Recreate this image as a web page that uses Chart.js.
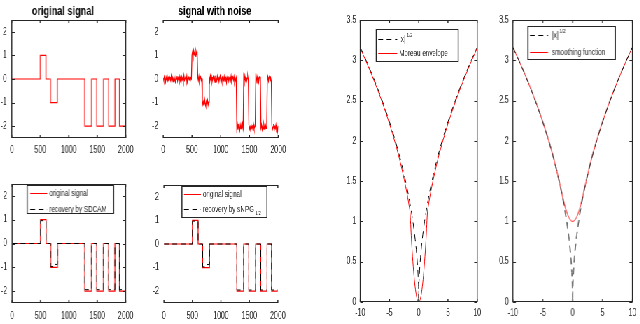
<!DOCTYPE html>
<html>
<head>
<meta charset="utf-8">
<script src="https://cdn.jsdelivr.net/npm/chart.js@4.4.1/dist/chart.umd.min.js"></script>
<style>
body { margin: 0; background: #fff; overflow: hidden; }
#fig { position: absolute; left: 0; top: 0; width: 915px; height: 324px; transform: scaleX(0.7); transform-origin: 0 0; }
.panel { position: absolute; }
</style>
</head>
<body>
<div id="fig">
  <div class="panel" id="p1"><canvas id="c1"></canvas></div>
  <div class="panel" id="p2"><canvas id="c2"></canvas></div>
  <div class="panel" id="p3"><canvas id="c3"></canvas></div>
  <div class="panel" id="p4"><canvas id="c4"></canvas></div>
  <div class="panel" id="p5"><canvas id="c5"></canvas></div>
  <div class="panel" id="p6"><canvas id="c6"></canvas></div>
</div>
<script>
// squeeze factor of the whole figure (the reference is narrow horizontally)
const S = 0.7

// ---- signals (left half) ----
const sigBreaks = [0, 500, 600, 680, 800, 1280, 1400, 1490, 1610, 1700, 1810, 1890, 2000]
const sigLevels = [0, 1, 0, -1, 0, -2, 0, -2, 0, -2, 0, -2, -2]

const sdcamBreaks = [0, 500, 600, 680, 730, 800, 1280, 1400, 1490, 1610, 1700, 1810, 1890, 2000]
const sdcamLevels = [0, 0.96, 0, -0.97, -0.88, 0, -1.94, 0, -1.94, 0, -1.94, 0, -1.94, -1.94]

const snpgBreaks = [0, 500, 600, 680, 740, 800, 1280, 1400, 1490, 1610, 1700, 1810, 1890, 2000]
const snpgLevels = [0, 0.97, 0, -0.97, -0.87, 0, -1.95, 0, -1.95, 0, -1.95, 0, -1.95, -1.95]

const noiseStep = 10
const noisy = [
  0.05, -0.08, 0.10, 0.02, -0.12, 0.07, -0.03, 0.11, -0.06, 0.04,
  -0.10, 0.08, 0.01, -0.07, 0.13, -0.04, 0.06, -0.11, 0.03, 0.09,
  -0.05, -0.13, 0.07, 0.00, 0.12, -0.08, 0.05, -0.02, 0.10, -0.09,
  0.04, -0.15, 0.08, -0.03, 0.06, -0.10, 0.14, -0.05, 0.02, 0.09,
  -0.07, 0.11, -0.12, 0.03, 0.07, -0.04, 0.10, -0.08, 0.05, 0.01,
  1.02, 1.15, 0.98, 1.20, 1.05, 1.12, 0.97, 1.18, 1.06, 1.10,
  0.08, -0.06, 0.11, -0.10, 0.04, 0.09, -0.05, 0.02,
  -0.92, -1.08, -0.97, -1.12, -0.88, -1.05, -1.15, -0.95, -1.03, -0.90, -1.10, -0.98,
  0.06, -0.09, 0.12, -0.04, 0.08, -0.11, 0.03, 0.10, -0.06, 0.05,
  -0.13, 0.07, 0.01, -0.08, 0.11, -0.03, 0.09, -0.10, 0.04, 0.13,
  -0.07, 0.02, -0.12, 0.08, 0.05, -0.05, 0.10, -0.09, 0.03, 0.07,
  -0.14, 0.06, -0.02, 0.11, -0.08, 0.04, 0.09, -0.06, 0.12, -0.10,
  0.01, 0.08, -0.04, 0.10, -0.11, 0.05, -0.07, 0.03,
  -2.08, -1.92, -2.15, -1.97, -2.05, -2.18, -1.95, -2.10, -2.02, -2.14, -1.90, -2.06,
  0.07, -0.10, 0.12, -0.05, 0.09, -0.08, 0.04, 0.11, -0.06,
  -1.94, -2.12, -2.03, -2.17, -1.96, -2.08, -2.01, -2.15, -1.93, -2.10, -2.04, -1.98,
  0.05, -0.09, 0.11, -0.04, 0.08, -0.12, 0.06, 0.10, -0.03,
  -2.06, -1.95, -2.14, -2.00, -2.11, -1.92, -2.07, -2.16, -1.97, -2.09, -2.03,
  -0.04, 0.10, -0.08, 0.06, 0.12, -0.07, 0.03, -0.10,
  -1.96, -2.13, -2.04, -1.91, -2.18, -2.02, -2.09, -1.95, -2.15, -2.06, -2.22, -1.99
]

const sigXTicks = [0, 500, 1000, 1500, 2000]
const sigYTicks = [-2, -1, 0, 1, 2]

// ---- curves (right half) ----
const sqrtX = [-10, -9, -8, -7, -6, -5, -4, -3, -2, -1.5, -1, -0.6, -0.3, -0.1, -0.02, 0, 0.02, 0.1, 0.3, 0.6, 1, 1.5, 2, 3, 4, 5, 6, 7, 8, 9, 10]
const sqrtY = [3.162, 3.0, 2.828, 2.646, 2.449, 2.236, 2.0, 1.732, 1.414, 1.225, 1.0, 0.775, 0.548, 0.316, 0.141, 0, 0.141, 0.316, 0.548, 0.775, 1.0, 1.225, 1.414, 1.732, 2.0, 2.236, 2.449, 2.646, 2.828, 3.0, 3.162]

const moreauX = [-10, -9, -8, -7, -6, -5, -4, -3, -2, -1.75, -1.6, -1.5, -1.25, -1, -0.75, -0.5, -0.25, 0, 0.25, 0.5, 0.75, 1, 1.25, 1.5, 1.6, 1.75, 2, 3, 4, 5, 6, 7, 8, 9, 10]
const moreauY = [3.150, 2.986, 2.812, 2.628, 2.429, 2.211, 1.968, 1.688, 1.345, 1.242, 1.173, 1.125, 0.781, 0.5, 0.281, 0.125, 0.031, 0, 0.031, 0.125, 0.281, 0.5, 0.781, 1.125, 1.173, 1.242, 1.345, 1.688, 1.968, 2.211, 2.429, 2.628, 2.812, 2.986, 3.150]

const smoothX = [-10, -9, -8, -7, -6, -5, -4, -3, -2, -1.75, -1.5, -1.25, -1, -0.75, -0.5, -0.25, 0, 0.25, 0.5, 0.75, 1, 1.25, 1.5, 1.75, 2, 3, 4, 5, 6, 7, 8, 9, 10]
const smoothY = [3.162, 3.0, 2.828, 2.646, 2.449, 2.236, 2.0, 1.732, 1.414, 1.329, 1.25, 1.179, 1.118, 1.068, 1.031, 1.008, 1, 1.008, 1.031, 1.068, 1.118, 1.179, 1.25, 1.329, 1.414, 1.732, 2.0, 2.236, 2.449, 2.646, 2.828, 3.0, 3.162]

const curveXTicks = [-10, -5, 0, 5, 10]
const curveYTicks = [0, 0.5, 1, 1.5, 2, 2.5, 3, 3.5]

const titles = ['original signal', 'signal with noise']
const legendSDCAM = ['original signal', 'recovery by SDCAM']
const legendSNPG = ['original signal', 'recovery by sNPG_1/2']
const legendMoreau = ['|x|^1/2', 'Moreau envelope']
const legendSmooth = ['|x|^1/2', 'smoothing function']

const FONT = '"Liberation Sans", Arial, Helvetica, sans-serif'
const RED = '#ff0000'
const DASH = [7, 5]

const pts = (xs, ys) => xs.map((x, i) => ({ x: x, y: ys[i] }))

// box around the axes, with small inward ticks like matlab
const frame = {
  id: 'frame',
  afterDraw(chart, args, o) {
    const ctx = chart.ctx, a = chart.chartArea
    const xs = chart.scales.x, ys = chart.scales.y
    ctx.save()
    ctx.strokeStyle = '#262626'
    const seg = (x1, y1, x2, y2, lw) => {
      ctx.lineWidth = lw
      ctx.beginPath(); ctx.moveTo(x1, y1); ctx.lineTo(x2, y2); ctx.stroke()
    }
    const sides = o.sides || 'tblr'
    if (sides.includes('t')) seg(a.left, a.top + 0.5, a.right, a.top + 0.5, 1)
    if (sides.includes('b')) seg(a.left, a.bottom - 0.5, a.right, a.bottom - 0.5, 1)
    if (sides.includes('l')) seg(a.left, a.top, a.left, a.bottom, 1 / S)
    if (sides.includes('r')) seg(a.right, a.top, a.right, a.bottom, 1 / S)
    xs.ticks.forEach(t => {
      const px = xs.getPixelForValue(t.value)
      seg(px, a.bottom, px, a.bottom - 3, 1 / S)
      if (sides.includes('t')) seg(px, a.top, px, a.top + 3, 1 / S)
    })
    ys.ticks.forEach(t => {
      const py = Math.round(ys.getPixelForValue(t.value)) + 0.5
      if (sides.includes('l')) seg(a.left, py, a.left + 3 / S, py, 1)
      if (sides.includes('r')) seg(a.right, py, a.right - 3 / S, py, 1)
    })
    ctx.restore()
  }
}

// legend box drawn inside the plot area
const boxLegend = {
  id: 'boxLegend',
  afterDraw(chart, args, o) {
    if (!o.items) return
    const ctx = chart.ctx, a = chart.chartArea
    const x0 = a.left + o.x / S, y0 = a.top + o.y, w = o.w / S
    ctx.save()
    ctx.fillStyle = '#fff'
    ctx.fillRect(x0, y0, w, o.h)
    ctx.strokeStyle = '#262626'
    ctx.lineWidth = 1
    ctx.beginPath()
    ctx.moveTo(x0, y0 + 0.5); ctx.lineTo(x0 + w, y0 + 0.5)
    ctx.moveTo(x0, y0 + o.h - 0.5); ctx.lineTo(x0 + w, y0 + o.h - 0.5)
    ctx.stroke()
    ctx.lineWidth = 1 / S
    ctx.beginPath()
    ctx.moveTo(x0, y0); ctx.lineTo(x0, y0 + o.h)
    ctx.moveTo(x0 + w, y0); ctx.lineTo(x0 + w, y0 + o.h)
    ctx.stroke()

    o.items.forEach((it, i) => {
      const y = Math.round(y0 + o.rows[i]) + 0.5
      ctx.strokeStyle = it.color
      ctx.lineWidth = 1
      ctx.setLineDash(it.dash || [])
      ctx.beginPath()
      ctx.moveTo(x0 + o.lineFrom / S, y); ctx.lineTo(x0 + o.lineTo / S, y)
      ctx.stroke()
      ctx.setLineDash([])

      let main = it.label, sup = null, sub = null
      if (main.includes('^')) [main, sup] = main.split('^')
      else if (main.includes('_')) [main, sub] = main.split('_')
      ctx.fillStyle = '#1a1a1a'
      ctx.textBaseline = 'middle'
      ctx.font = '9px ' + FONT
      const tx = x0 + o.textAt / S
      ctx.fillText(main, tx, y)
      if (sup || sub) {
        const mw = ctx.measureText(main).width
        ctx.font = '6px ' + FONT
        ctx.fillText(sup || sub, tx + mw + 1.5, y + (sup ? -4 : 3.5))
      }
    })
    ctx.restore()
  }
}

function place(id, left, top, width, height) {
  const el = document.getElementById(id)
  el.style.left = (left / S) + 'px'
  el.style.top = top + 'px'
  el.style.width = (width / S) + 'px'
  el.style.height = height + 'px'
}

function panel(canvasId, p) {
  const tickFont = { family: FONT, size: 10 }
  return new Chart(document.getElementById(canvasId), {
    type: 'line',
    data: { datasets: p.datasets },
    options: {
      responsive: true,
      maintainAspectRatio: false,
      animation: false,
      events: [],
      layout: { padding: { top: p.title ? 0 : 15, right: p.padRight / S, left: 0, bottom: 0 } },
      elements: { point: { radius: 0 } },
      scales: {
        x: {
          type: 'linear', min: p.xMin, max: p.xMax,
          afterBuildTicks: ax => { ax.ticks = p.xTicks.map(v => ({ value: v })) },
          afterFit: ax => { ax.height = p.xh },
          grid: { display: false, drawTicks: false }, border: { display: false },
          ticks: { font: tickFont, color: '#262626', padding: p.xPad, maxRotation: 0, autoSkip: false, callback: v => String(v) }
        },
        y: {
          type: 'linear', min: p.yMin, max: p.yMax,
          afterBuildTicks: ax => { ax.ticks = p.yTicks.map(v => ({ value: v })) },
          afterFit: ax => { ax.width = p.yw / S },
          grid: { display: false, drawTicks: false }, border: { display: false },
          ticks: { font: tickFont, color: '#262626', padding: p.yPad / S, autoSkip: false, callback: v => String(v) }
        }
      },
      plugins: {
        legend: { display: false },
        tooltip: { enabled: false },
        title: p.title ? {
          display: true, text: p.title, color: '#000',
          font: { family: FONT, size: 13, weight: 'bold', lineHeight: 1.2 },
          padding: { top: 4, bottom: 0.4 }
        } : { display: false },
        frame: { sides: p.sides },
        boxLegend: p.legend || {}
      }
    },
    plugins: [frame, boxLegend]
  })
}

const stepPts = (b, l) => b.map((x, i) => ({ x: x, y: l[i] }))
const sigAxes = { xMin: 0, xMax: 2000, yMin: -2.5, yMax: 2.5, xTicks: sigXTicks, yTicks: sigYTicks, yPad: 5 }
const curveAxes = { xMin: -10, xMax: 10, yMin: 0, yMax: 3.5, xTicks: curveXTicks, yTicks: curveYTicks, yPad: 4, xh: 16, xPad: 5.5, padRight: 8.4 }

place('p1', 0, 0, 137.6, 156)
place('p2', 151, 0, 139.6, 156)
place('p3', 0, 169, 137.6, 152)
place('p4', 152, 170, 138.6, 151)
place('p5', 340, 5, 145.4, 313)
place('p6', 493, 5, 147.4, 313)

panel('c1', Object.assign({}, sigAxes, {
  title: titles[0], yw: 11.7, padRight: 12.6, xh: 18, xPad: 6, sides: 'tblr',
  datasets: [{ data: stepPts(sigBreaks, sigLevels), stepped: true, borderColor: RED, borderWidth: 1.2 }]
}))

panel('c2', Object.assign({}, sigAxes, {
  title: titles[1], yw: 12, padRight: 12.6, xh: 18, xPad: 6, sides: 'tb',
  datasets: [{ data: noisy.map((v, i) => ({ x: i * noiseStep, y: v })), borderColor: RED, borderWidth: 1.3 }]
}))

panel('c3', Object.assign({}, sigAxes, {
  yw: 12, padRight: 12.6, xh: 18, xPad: 7, sides: 'tblr',
  datasets: [
    { data: stepPts(sdcamBreaks, sdcamLevels), stepped: true, borderColor: '#000', borderWidth: 1, borderDash: DASH },
    { data: stepPts(sigBreaks, sigLevels), stepped: true, borderColor: RED, borderWidth: 1.2 }
  ],
  legend: {
    x: 15, y: 1, w: 86, h: 29, rows: [8, 24], lineFrom: 3, lineTo: 20, textAt: 22,
    items: [
      { label: legendSDCAM[0], color: RED },
      { label: legendSDCAM[1], color: '#000', dash: DASH }
    ]
  }
}))

panel('c4', Object.assign({}, sigAxes, {
  yw: 12, padRight: 12.6, xh: 18, xPad: 7, sides: 'tb',
  datasets: [
    { data: stepPts(snpgBreaks, snpgLevels), stepped: true, borderColor: '#000', borderWidth: 1, borderDash: DASH },
    { data: stepPts(sigBreaks, sigLevels), stepped: true, borderColor: RED, borderWidth: 1.2 }
  ],
  legend: {
    x: 18, y: 1, w: 85, h: 32, rows: [8, 23], lineFrom: 2, lineTo: 19, textAt: 21,
    items: [
      { label: legendSNPG[0], color: RED },
      { label: legendSNPG[1], color: '#000', dash: DASH }
    ]
  }
}))

panel('c5', Object.assign({}, curveAxes, {
  yw: 20, sides: 'tblr',
  datasets: [
    { data: pts(moreauX, moreauY), borderColor: RED, borderWidth: 1, cubicInterpolationMode: 'monotone' },
    { data: pts(sqrtX, sqrtY), borderColor: '#000', borderWidth: 1, borderDash: DASH, cubicInterpolationMode: 'monotone' }
  ],
  legend: {
    x: 16, y: 9, w: 82, h: 33, rows: [10, 24], lineFrom: 2, lineTo: 21, textAt: 23,
    items: [
      { label: legendMoreau[0], color: '#000', dash: DASH },
      { label: legendMoreau[1], color: RED }
    ]
  }
}))

panel('c6', Object.assign({}, curveAxes, {
  yw: 20, sides: 'tblr',
  datasets: [
    { data: pts(sqrtX, sqrtY), borderColor: '#000', borderWidth: 1, borderDash: DASH, cubicInterpolationMode: 'monotone' },
    { data: pts(smoothX, smoothY), borderColor: RED, borderWidth: 1, cubicInterpolationMode: 'monotone' }
  ],
  legend: {
    x: 15, y: 6, w: 87, h: 34, rows: [9, 26], lineFrom: 2, lineTo: 20, textAt: 24,
    items: [
      { label: legendSmooth[0], color: '#000', dash: DASH },
      { label: legendSmooth[1], color: RED }
    ]
  }
}))
</script>
</body>
</html>
